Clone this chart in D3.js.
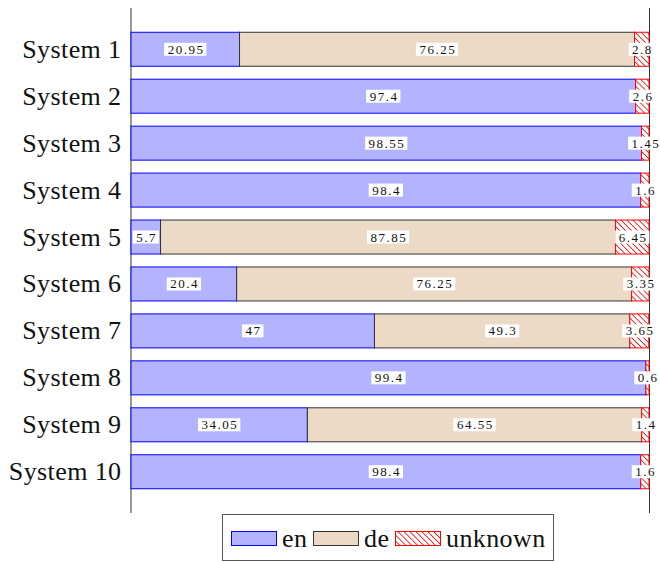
<!DOCTYPE html>
<html>
<head>
<meta charset="utf-8">
<script src="https://cdn.jsdelivr.net/npm/d3@7"></script>
<style>
  body { margin: 0; background: #fff; }
  svg { display: block; }
  .serif { font-family: "Liberation Serif", "Times New Roman", serif; }
</style>
</head>
<body>
<svg id="chart" width="660" height="563"></svg>
<script>
const systems = ["System 1","System 2","System 3","System 4","System 5","System 6","System 7","System 8","System 9","System 10"];
const enValues = [20.95, 97.4, 98.55, 98.4, 5.7, 20.4, 47, 99.4, 34.05, 98.4];
const deValues = [76.25, 0, 0, 0, 87.85, 76.25, 49.3, 0, 64.55, 0];
const unknownValues = [2.8, 2.6, 1.45, 1.6, 6.45, 3.35, 3.65, 0.6, 1.4, 1.6];
const seriesNames = ["en", "de", "unknown"];

const svg = d3.select("#chart");
const x = d3.scaleLinear().domain([0, 100]).range([131, 649]);
const y = d3.scaleBand().domain(systems).range([8, 513]).paddingInner(0.2757).paddingOuter(0.517);

const defs = svg.append("defs");
const pat = defs.append("pattern").attr("id", "hatch").attr("patternUnits", "userSpaceOnUse")
  .attr("width", 4.2).attr("height", 4.2).attr("patternTransform", "rotate(-45)");
pat.append("rect").attr("width", 4.2).attr("height", 4.2).attr("fill", "#fff");
pat.append("line").attr("x1", 2.1).attr("y1", 0).attr("x2", 2.1).attr("y2", 4.2)
  .attr("stroke", "#ff0000").attr("stroke-width", 0.8);

const styles = {
  en: { fill: "#b3b3ff", stroke: "#0000ff" },
  de: { fill: "#ecd9c6", stroke: "#333333" },
  unknown: { fill: "url(#hatch)", stroke: "#ff0000" }
};

const data = systems.map((s, i) => ({ system: s, en: enValues[i], de: deValues[i], unknown: unknownValues[i] }));
const stack = d3.stack().keys(seriesNames)(data);

svg.append("line").attr("x1", 131).attr("x2", 131).attr("y1", 8).attr("y2", 513)
  .attr("stroke", "#333").attr("stroke-width", 1);
svg.append("line").attr("x1", 649.5).attr("x2", 649.5).attr("y1", 8).attr("y2", 513)
  .attr("stroke", "#333").attr("stroke-width", 1);

stack.forEach(layer => {
  const st = styles[layer.key];
  svg.append("g").selectAll("rect").data(layer.filter(d => d[1] - d[0] > 0)).join("rect")
    .attr("x", d => x(d[0]))
    .attr("y", d => y(d.data.system))
    .attr("width", d => x(d[1]) - x(d[0]))
    .attr("height", y.bandwidth())
    .attr("fill", st.fill)
    .attr("stroke", st.stroke)
    .attr("stroke-width", 1);
});

const labelG = svg.append("g");
stack.forEach(layer => {
  layer.filter(d => d[1] - d[0] > 0).forEach(d => {
    const v = d[1] - d[0];
    const cx = x((d[0] + d[1]) / 2);
    const cy = y(d.data.system) + y.bandwidth() / 2;
    const g = labelG.append("g");
    const t = g.append("text")
      .attr("class", "serif")
      .attr("x", cx + 0.75).attr("y", cy + 4.5)
      .attr("text-anchor", "middle")
      .attr("font-size", 13)
      .attr("letter-spacing", "1.5px")
      .attr("fill", "#111")
      .text(String(Math.round(v * 100) / 100));
    const bb = t.node().getBBox();
    const w = bb.width - 1.5 + 7;
    g.insert("rect", "text")
      .attr("x", cx - w / 2).attr("y", cy - 6.5)
      .attr("width", w).attr("height", 13)
      .attr("fill", "#fff");
  });
});

svg.append("g").selectAll("text").data(systems).join("text")
  .attr("class", "serif")
  .attr("x", 121.5).attr("y", d => y(d) + y.bandwidth() / 2 + 8.5)
  .attr("text-anchor", "end")
  .attr("font-size", 26)
  .attr("letter-spacing", "0.4px")
  .attr("fill", "#111")
  .text(d => d);

const leg = svg.append("g");
leg.append("rect").attr("x", 222.5).attr("y", 514.5).attr("width", 331).attr("height", 46)
  .attr("fill", "#fff").attr("stroke", "#555").attr("stroke-width", 1);
const legX = [231, 313, 395];
const legTextX = [282, 364, 446];
seriesNames.forEach((k, i) => {
  leg.append("rect").attr("x", legX[i] + 0.5).attr("y", 531.5).attr("width", 45).attr("height", 14)
    .attr("fill", styles[k].fill).attr("stroke", styles[k].stroke).attr("stroke-width", 1);
  leg.append("text").attr("class", "serif").attr("x", legTextX[i]).attr("y", 546.5)
    .attr("font-size", 26).attr("letter-spacing", "0.4px")
    .attr("fill", "#111")
    .text(k);
});
</script>
</body>
</html>
